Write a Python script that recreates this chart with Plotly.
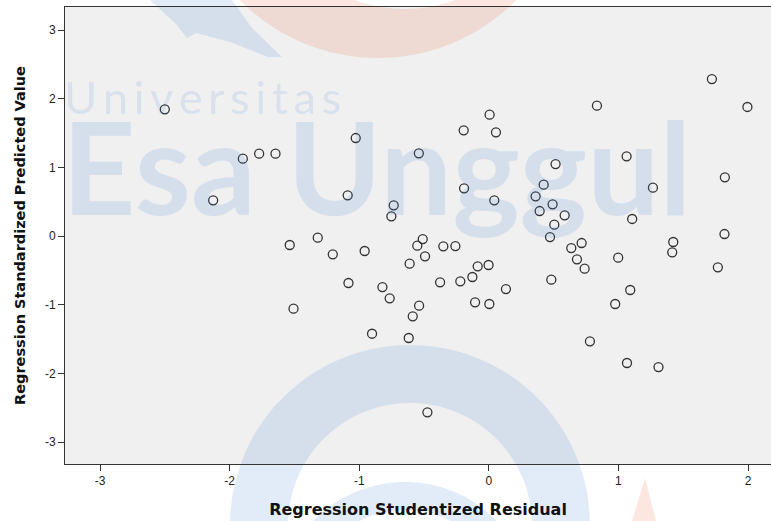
import numpy as np
import plotly.graph_objects as go

# Regression Studentized Residual (x) vs Regression Standardized Predicted Value (y)
resid = [-2.500, -1.898, -1.772, -1.646, -1.027, -2.127, -1.089, -0.734, -0.752, -0.540,
         -1.536, -1.320, -1.204, -0.958, -0.552, 1.721, 1.995, 0.834, 0.006, -0.194,
         0.055, 1.063, 0.515, 1.821, 0.423, -0.191, 1.266, 0.361, 0.042, 0.492,
         0.392, 0.585, 1.106, 0.505, 1.818, 0.472, -0.510, -0.351, -0.258, -0.492,
         -0.611, -0.086, -0.002, -0.127, -0.376, -0.220, 0.132, -0.106, 0.004, -0.538,
         -0.587, -0.618, -0.474, 0.716, 0.636, 0.680, 0.739, 0.482, 0.998, 1.423,
         1.415, 1.767, 1.091, 0.975, 0.780, 1.066, 1.309, -1.083, -0.821, -0.765,
         -1.507, -0.901]
pred = [1.845, 1.126, 1.199, 1.199, 1.427, 0.520, 0.592, 0.447, 0.287, 1.204,
        -0.131, -0.024, -0.267, -0.218, -0.141, 2.286, 1.879, 1.898, 1.767, 1.539,
        1.510, 1.160, 1.048, 0.854, 0.747, 0.694, 0.704, 0.578, 0.520, 0.461,
        0.364, 0.301, 0.248, 0.165, 0.029, -0.015, -0.044, -0.150, -0.146, -0.296,
        -0.403, -0.441, -0.422, -0.597, -0.675, -0.660, -0.772, -0.966, -0.990, -1.015,
        -1.170, -1.485, -2.568, -0.102, -0.175, -0.340, -0.476, -0.636, -0.316, -0.087,
        -0.238, -0.456, -0.786, -0.990, -1.534, -1.849, -1.908, -0.684, -0.743, -0.908,
        -1.058, -1.423]
x_ticks = [-3, -2, -1, 0, 1, 2]
y_ticks = [-3, -2, -1, 0, 1, 2, 3]
x_labels = ["-3", "-2", "-1", "0", "1", "2"]
y_labels = ["-3", "-2", "-1", "0", "1", "2", "3"]

W, H = 771, 521
L, R, T, B = 65, 0, 7, 57
PW, PH = W - L - R, H - T - B

BLUE = "rgba(60,125,215,0.15)"
ORANGE = "rgba(235,120,80,0.18)"


def to_paper(px, py):
    return (px - L) / PW, (H - B - py) / PH


def poly(points):
    pts = [to_paper(x, y) for x, y in points]
    return "M " + " L ".join(f"{x:.4f},{y:.4f}" for x, y in pts) + " Z"


def circle_pts(cx, cy, r, n=160):
    t = np.linspace(0, 2 * np.pi, n, endpoint=False)
    return list(zip(cx + r * np.cos(t), cy + r * np.sin(t)))


def ring(cx, cy, r_out, cx2, cy2, r_in):
    return poly(circle_pts(cx, cy, r_out)) + " " + poly(circle_pts(cx2, cy2, r_in))


shapes = [
    # plot background
    dict(type="rect", xref="paper", yref="paper", x0=0, y0=0, x1=1, y1=1,
         fillcolor="#f0f0f0", line_width=0, layer="below"),
    # watermark pieces
    dict(type="path", xref="paper", yref="paper", path=ring(378, -136, 194, 405, -136, 145),
         fillcolor=ORANGE, line_width=0, layer="below"),
    dict(type="path", xref="paper", yref="paper",
         path=poly([(150, 0), (232, 0), (252, 28), (282, 57), (268, 57), (230, 42),
                    (196, 33), (187, 38), (176, 24)]),
         fillcolor=BLUE, line_width=0, layer="below"),
    dict(type="path", xref="paper", yref="paper", path=ring(410, 525, 180, 410, 525, 122),
         fillcolor=BLUE, line_width=0, layer="below"),
    dict(type="path", xref="paper", yref="paper", path=ring(405, 610, 128, 405, 610, 100),
         fillcolor=BLUE, line_width=0, layer="below"),
    dict(type="path", xref="paper", yref="paper",
         path=poly([(645, 478), (656, 521), (632, 521)]),
         fillcolor=ORANGE, line_width=0, layer="below"),
]

fig = go.Figure()
fig.add_trace(go.Scatter(
    x=resid, y=pred, mode="markers",
    marker=dict(symbol="circle-open", size=9, color="#333333", line=dict(width=1.3)),
    showlegend=False, hoverinfo="x+y",
))

ux, uy = to_paper(62, 97)
ex, ey = to_paper(60, 165)
fig.add_annotation(xref="paper", yref="paper", x=ux, y=uy, xanchor="left", yanchor="middle",
                   text="\u2009".join("Universitas"), showarrow=False,
                   font=dict(family="Lato", size=45, color=BLUE))
fig.add_annotation(xref="paper", yref="paper", x=ex, y=ey, xanchor="left", yanchor="middle",
                   text="<b>Esa Unggul</b>", showarrow=False,
                   font=dict(family="Lato", size=128, color=BLUE))

axis_font = dict(family="Liberation Sans", size=12, color="#222222")

fig.update_layout(
    width=W, height=H,
    margin=dict(l=L, r=R, t=T, b=B, autoexpand=False),
    paper_bgcolor="white",
    plot_bgcolor="rgba(0,0,0,0)",
    shapes=shapes,
    xaxis=dict(
        range=[-3.27, 2.177], tickvals=x_ticks, ticktext=x_labels, automargin=False,
        showgrid=False, zeroline=False,
        showline=True, linecolor="#333333", linewidth=1, mirror=True,
        ticks="outside", ticklen=6, tickcolor="#333333", tickfont=axis_font,
        title=dict(text="<b>Regression Studentized Residual</b>",
                   font=dict(family="DejaVu Sans", size=16, color="#111111"), standoff=16),
    ),
    yaxis=dict(
        range=[-3.32, 3.335], tickvals=y_ticks, ticktext=y_labels, automargin=False,
        showgrid=False, zeroline=False,
        showline=True, linecolor="#333333", linewidth=1,
        ticks="outside", ticklen=6, tickcolor="#333333", tickfont=axis_font,
        title=dict(text="<b>Regression Standardized Predicted Value</b>",
                   font=dict(family="DejaVu Sans", size=14.5, color="#111111"), standoff=15),
    ),
)

fig.write_html("out.html", config={"displayModeBar": False},
               post_script="document.body.style.margin='0px';")
